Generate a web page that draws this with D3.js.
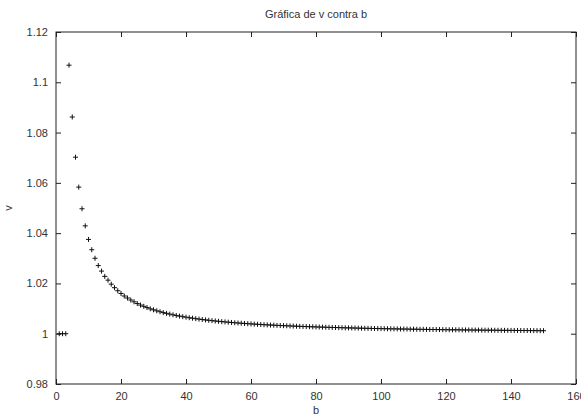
<!DOCTYPE html>
<html>
<head>
<meta charset="utf-8">
<script src="https://cdn.jsdelivr.net/npm/d3@7"></script>
<style>
  body { margin: 0; background: #fff; }
  svg { display: block; }
  text { font-family: "Liberation Sans", Arial, sans-serif; fill: #333; }
</style>
</head>
<body>
<svg id="chart" width="581" height="417"></svg>
<script>
// b values 1..150 and v
const bValues = d3.range(1, 151);
const vValues = [
  1.0000, 1.0000, 1.0000, 1.1068, 1.0862, 1.0702, 1.0583, 1.0497, 1.0429, 1.0375,
  1.0334, 1.0300, 1.0271, 1.0249, 1.0228, 1.0213, 1.0197, 1.0183, 1.0171, 1.0160,
  1.0150, 1.0142, 1.0134, 1.0127, 1.0120, 1.0114, 1.0109, 1.0104, 1.0099, 1.0095,
  1.0091, 1.00875, 1.0084, 1.0081, 1.0078, 1.00752, 1.00726, 1.00701, 1.00678, 1.00657,
  1.00636, 1.00617, 1.00598, 1.00581, 1.00564, 1.00549, 1.00534, 1.0052, 1.00506, 1.00493,
  1.00481, 1.0047, 1.00458, 1.00447, 1.00436, 1.00427, 1.00417, 1.00408, 1.00399, 1.0039,
  1.00382, 1.00374, 1.00366, 1.00359, 1.00352, 1.00345, 1.00339, 1.00332, 1.00326, 1.0032,
  1.00315, 1.00309, 1.00304, 1.00298, 1.00293, 1.00288, 1.00284, 1.00279, 1.00275, 1.0027,
  1.00266, 1.00262, 1.00257, 1.00253, 1.00249, 1.00246, 1.00242, 1.00239, 1.00235, 1.00232,
  1.00229, 1.00226, 1.00222, 1.00219, 1.00216, 1.00213, 1.0021, 1.00207, 1.00205, 1.00202,
  1.002, 1.00197, 1.00195, 1.00193, 1.00191, 1.00188, 1.00186, 1.00184, 1.00181, 1.00179,
  1.00177, 1.00175, 1.00173, 1.00171, 1.00169, 1.00168, 1.00166, 1.00164, 1.00162, 1.0016,
  1.00158, 1.00157, 1.00155, 1.00154, 1.00152, 1.0015, 1.00149, 1.00147, 1.00146, 1.00144,
  1.00143, 1.00142, 1.0014, 1.00139, 1.00138, 1.00136, 1.00135, 1.00134, 1.00132, 1.00131,
  1.0013, 1.00129, 1.00128, 1.00127, 1.00126, 1.00124, 1.00123, 1.00122, 1.00121, 1.0012
];
const xTicks = [0, 20, 40, 60, 80, 100, 120, 140, 160];
const xTickLabels = ["0", "20", "40", "60", "80", "100", "120", "140", "160"];
const yTicks = [0.98, 1.0, 1.02, 1.04, 1.06, 1.08, 1.1, 1.12];
const yTickLabels = ["0.98", "1", "1.02", "1.04", "1.06", "1.08", "1.1", "1.12"];

const plotL = 56, plotR = 576, plotT = 32, plotB = 384;
const svg = d3.select('#chart');

const x = d3.scaleLinear().domain([0, 160]).range([plotL, plotR]);
const y = d3.scaleLinear().domain([0.98, 1.12]).range([plotB, plotT]);

// box
svg.append('rect')
  .attr('x', plotL).attr('y', plotT)
  .attr('width', plotR - plotL).attr('height', plotB - plotT)
  .attr('fill', 'none').attr('stroke', '#222').attr('stroke-width', 1);

function styleAxis(g) {
  g.select('.domain').remove();
  g.selectAll('.tick line').attr('stroke', '#222');
  g.selectAll('.tick text').attr('fill', '#333')
    .style('font-family', '"Liberation Sans", Arial, sans-serif')
    .style('font-size', '11px');
}

svg.append('g')
  .attr('transform', `translate(0,${plotB})`)
  .call(d3.axisBottom(x).tickValues(xTicks)
    .tickFormat((d, i) => xTickLabels[i]).tickSizeInner(-5).tickSizeOuter(0).tickPadding(8))
  .call(styleAxis);
svg.append('g')
  .attr('transform', `translate(0,${plotT})`)
  .call(d3.axisTop(x).tickValues(xTicks).tickFormat('').tickSizeInner(-5).tickSizeOuter(0))
  .call(styleAxis);
svg.append('g')
  .attr('transform', `translate(${plotL},0)`)
  .call(d3.axisLeft(y).tickValues(yTicks)
    .tickFormat((d, i) => yTickLabels[i]).tickSizeInner(-5).tickSizeOuter(0).tickPadding(8))
  .call(styleAxis);
svg.append('g')
  .attr('transform', `translate(${plotR},0)`)
  .call(d3.axisRight(y).tickValues(yTicks).tickFormat('').tickSizeInner(-5).tickSizeOuter(0))
  .call(styleAxis);

// '+' markers
svg.append('g')
  .selectAll('path')
  .data(bValues.map((b, i) => [b, vValues[i]]))
  .join('path')
  .attr('transform', d => `translate(${x(d[0])},${y(d[1])})`)
  .attr('d', 'M-2.5,0H2.5M0,-2.5V2.5')
  .attr('stroke', '#111')
  .attr('stroke-width', 1)
  .attr('fill', 'none');

// title and labels
svg.append('text')
  .attr('x', (plotL + plotR) / 2).attr('y', 18)
  .attr('text-anchor', 'middle')
  .style('font-size', '11px')
  .text('Gráfica de v contra b');
svg.append('text')
  .attr('x', (plotL + plotR) / 2).attr('y', 414)
  .attr('text-anchor', 'middle')
  .style('font-size', '11px')
  .text('b');
svg.append('text')
  .attr('transform', `translate(12,${(plotT + plotB) / 2}) rotate(-90)`)
  .attr('text-anchor', 'middle')
  .style('font-size', '11px')
  .text('v');
</script>
</body>
</html>
